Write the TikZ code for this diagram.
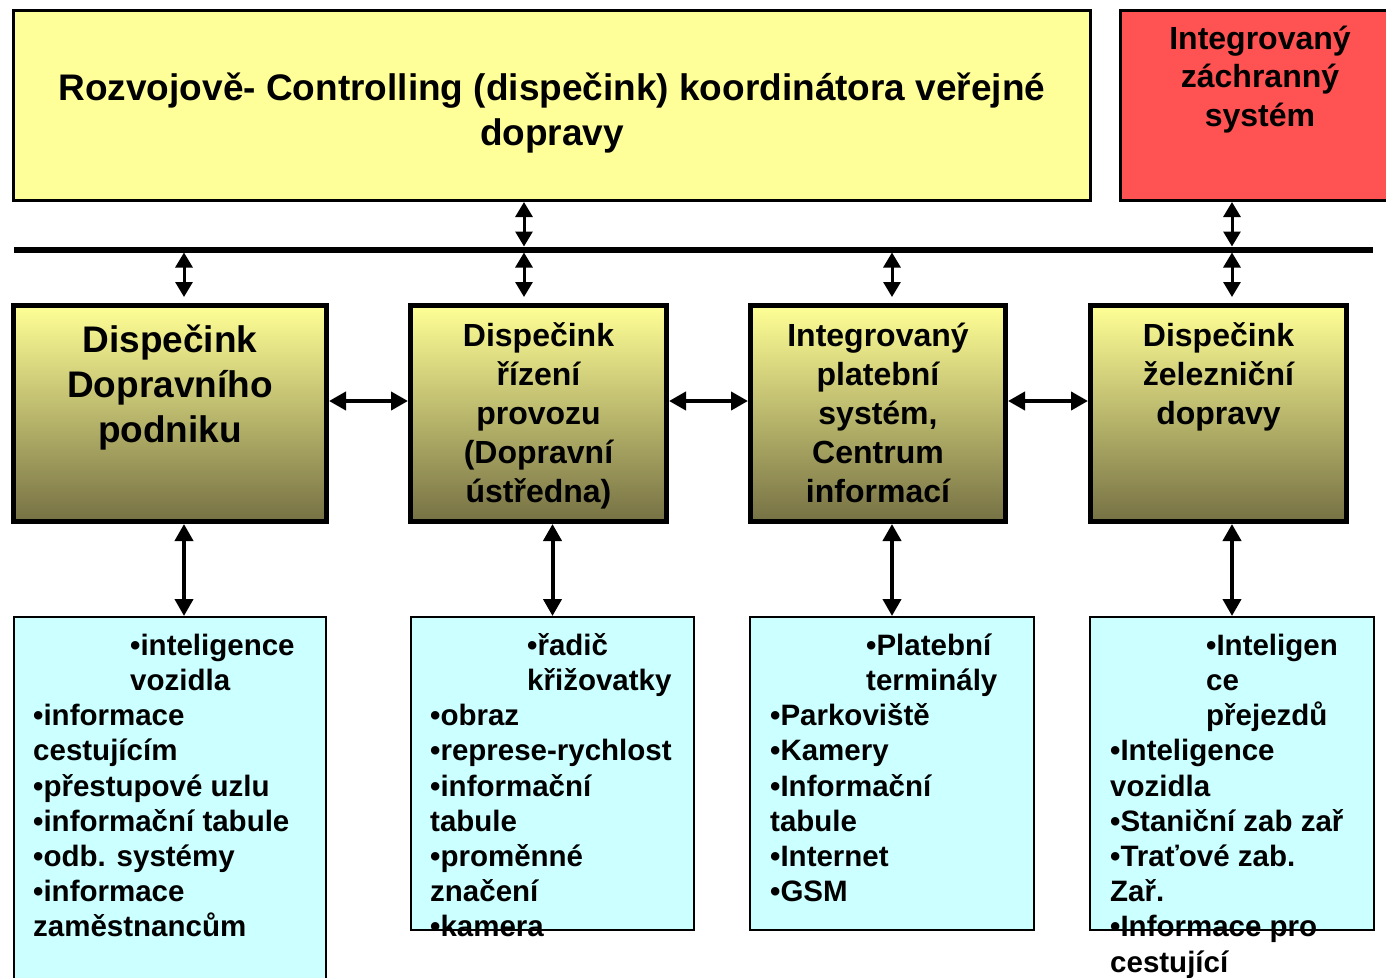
\documentclass[tikz,border=0pt]{standalone}
\usepackage{fontspec}
\setmainfont{Liberation Sans}
\usetikzlibrary{arrows.meta,positioning}
\definecolor{ctrlyellow}{RGB}{255,255,153}
\definecolor{izsred}{RGB}{255,82,82}
\definecolor{disptop}{RGB}{255,255,150}
\definecolor{dispbot}{RGB}{118,113,68}
\definecolor{listcyan}{RGB}{204,255,255}
\begin{document}
\begin{tikzpicture}[x=1pt,y=-1pt,
  headbox/.style={draw=black,line width=3pt,inner sep=0pt},
  dispbox/.style={draw=black,line width=5pt,inner sep=0pt,top color=disptop,bottom color=dispbot},
  listbox/.style={draw=black,line width=2pt,inner sep=0pt,fill=listcyan},
  bigtext/.style={anchor=north,inner sep=0pt,align=center,font=\fontsize{37}{45}\selectfont\bfseries},
  midtext/.style={anchor=north,inner sep=0pt,align=center,font=\fontsize{32}{39}\selectfont\bfseries},
  listtext/.style={anchor=north west,inner sep=0pt,align=left,font=\fontsize{29.5}{35.2}\selectfont\bfseries},
  thinlink/.style={line width=3pt,>={Triangle[length=15pt,width=17pt]},<->},
  thicklink/.style={line width=4pt,>={Triangle[length=17pt,width=18pt]},<->},
]
\useasboundingbox (0,0) rectangle (1386,977);
%%
\node (ctrl) at (552,105.25) [headbox,fill=ctrlyellow,minimum width=1077pt,minimum height=190.5pt] {};
  \node (izs) at (1260.25,105.25) [headbox,fill=izsred,minimum width=279.5pt,minimum height=190.5pt] {};
  \node (ctrl_label) at (552,68.5) [bigtext] {\strut Rozvojově- Controlling (dispečink) koordinátora veřejné\\dopravy};
  \node (izs_label) at (1260,22) [midtext,font=\fontsize{32}{38.5}\selectfont\bfseries] {\strut Integrovaný\\záchranný\\systém};
%%
\coordinate (bus_w) at (14,249.5);
  \coordinate (bus_e) at (1373,249.5);
  \coordinate (tap_a) at (184,249.5);
  \coordinate (tap_b) at (524,249.5);
  \coordinate (tap_c) at (892,249.5);
  \coordinate (tap_d) at (1232,249.5);
  \coordinate (row_mid) at (0,401);
  \draw [line width=6pt] (bus_w) -- (bus_e);
%%
\node (disp_a) at (170,413.5) [dispbox,minimum width=313pt,minimum height=216pt] {};
  \node (disp_b) at (538.5,413.5) [dispbox,minimum width=256pt,minimum height=216pt] {};
  \node (disp_c) at (878,413.5) [dispbox,minimum width=255pt,minimum height=216pt] {};
  \node (disp_d) at (1218.5,413.5) [dispbox,minimum width=256pt,minimum height=216pt] {};
  \node (disp_a_label) at (170,320.5) [bigtext] {\strut Dispečink\\Dopravního\\podniku};
  \node (disp_b_label) at (538.5,318.7) [midtext] {\strut Dispečink\\řízení\\provozu\\(Dopravní\\ústředna)};
  \node (disp_c_label) at (878,318.7) [midtext] {\strut Integrovaný\\platební\\systém,\\Centrum\\informací};
  \node (disp_d_label) at (1218.5,318.7) [midtext] {\strut Dispečink\\železniční\\dopravy};
%%
\node (list_a) at (170,806) [listbox,minimum width=312pt,minimum height=378pt] {};
  \node (list_b) at (552.5,773.5) [listbox,minimum width=283pt,minimum height=313pt] {};
  \node (list_c) at (892,773.5) [listbox,minimum width=284pt,minimum height=313pt] {};
  \node (list_d) at (1232,773.5) [listbox,minimum width=284pt,minimum height=313pt] {};
  \node (list_a_text) at (33,630.4) [listtext] {\strut\hspace*{97pt}•inteligence\\\hspace*{97pt}vozidla\\•informace\\cestujícím\\•přestupové uzlu\\•informační tabule\\•odb. systémy\\•informace\\zaměstnancům};
  \node (list_b_text) at (430,630.4) [listtext] {\strut\hspace*{97pt}•řadič\\\hspace*{97pt}křižovatky\\•obraz\\•represe-rychlost\\•informační\\tabule\\•proměnné\\značení\\•kamera};
  \node (list_c_text) at (770,630.4) [listtext] {\strut\hspace*{96pt}•Platební\\\hspace*{96pt}terminály\\•Parkoviště\\•Kamery\\•Informační\\tabule\\•Internet\\•GSM};
  \node (list_d_text) at (1110,630.4) [listtext] {\strut\hspace*{96pt}•Inteligen\\\hspace*{96pt}ce\\\hspace*{96pt}přejezdů\\•Inteligence\\vozidla\\•Staniční zab zař\\•Traťové zab.\\Zař.\\•Informace pro\\cestující};
%
\draw [thinlink] (tap_b |- ctrl.south) -- ([yshift=3pt]tap_b);
  \draw [thinlink] (tap_d |- izs.south) -- ([yshift=3pt]tap_d);
  \draw [thinlink] ([yshift=-3pt]tap_a) -- ([yshift=6pt]tap_a |- disp_a.north);
  \draw [thinlink] ([yshift=-3pt]tap_b) -- ([yshift=6pt]tap_b |- disp_b.north);
  \draw [thinlink] ([yshift=-3pt]tap_c) -- ([yshift=6pt]tap_c |- disp_c.north);
  \draw [thinlink] ([yshift=-3pt]tap_d) -- ([yshift=6pt]tap_d |- disp_d.north);
  \draw [thicklink] (disp_a.east |- row_mid) -- (disp_b.west |- row_mid);
  \draw [thicklink] (disp_b.east |- row_mid) -- (disp_c.west |- row_mid);
  \draw [thicklink] (disp_c.east |- row_mid) -- (disp_d.west |- row_mid);
  \draw [thicklink] ([xshift=14pt]list_a.north |- disp_a.south) -- ([xshift=14pt]list_a.north);
  \draw [thicklink] (list_b.north |- disp_b.south) -- (list_b.north);
  \draw [thicklink] (list_c.north |- disp_c.south) -- (list_c.north);
  \draw [thicklink] (list_d.north |- disp_d.south) -- (list_d.north);
%
\end{tikzpicture}
\end{document}
